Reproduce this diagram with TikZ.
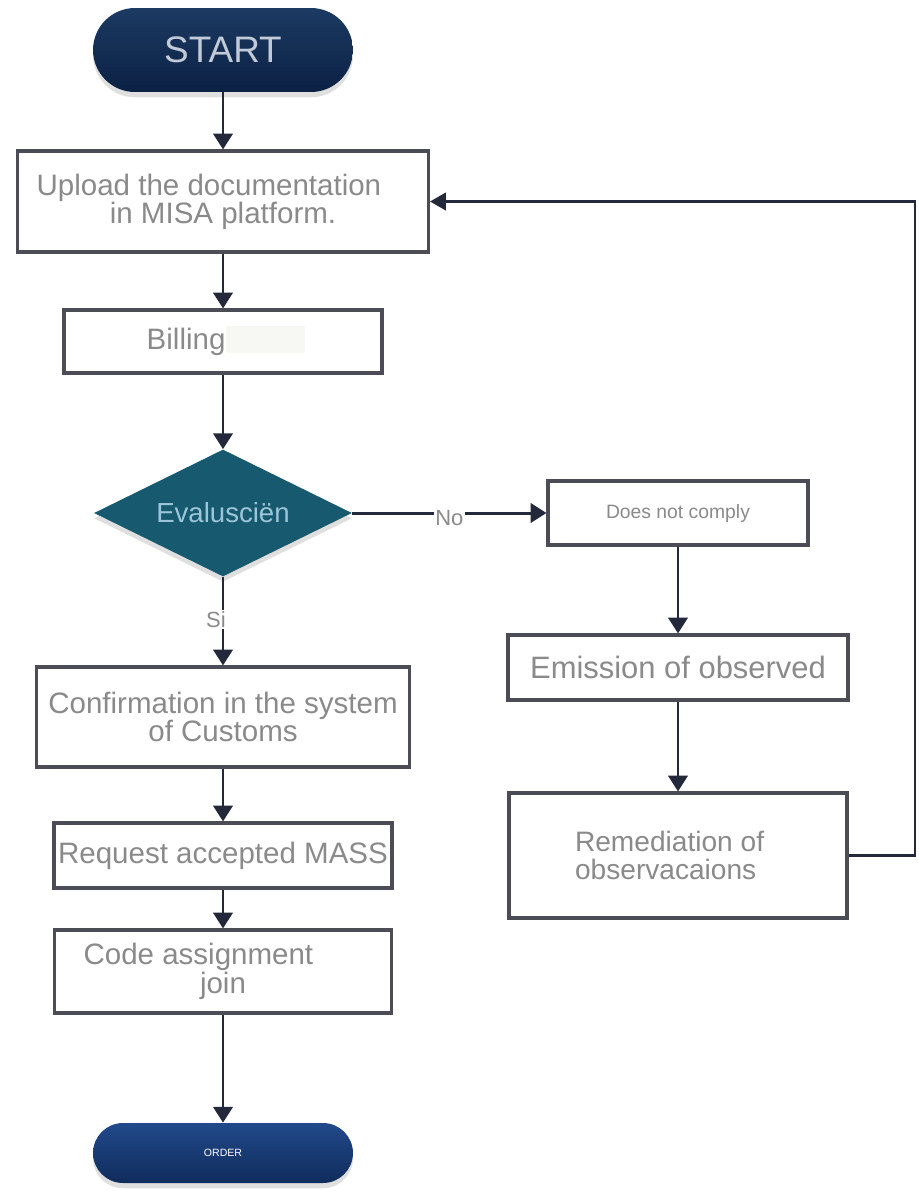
\documentclass[tikz,border=0pt]{standalone}
\usepackage{fontspec}
\setmainfont{Liberation Sans}
\usetikzlibrary{arrows.meta,shapes.geometric,shadows}
\definecolor{navytop}{HTML}{1C3A62}
\definecolor{navybot}{HTML}{0B2144}
\definecolor{endtop}{HTML}{21498A}
\definecolor{endbot}{HTML}{102C5C}
\definecolor{teal}{HTML}{175A70}
\definecolor{boxline}{HTML}{4C4C56}
\definecolor{arrowc}{HTML}{23283A}
\definecolor{txtgray}{HTML}{8A8A8A}
\definecolor{evaltxt}{HTML}{9CC6D8}
\definecolor{starttxt}{HTML}{C2CAD8}
\definecolor{hilite}{HTML}{F7F7F4}
\begin{document}
\begin{tikzpicture}[x=0.02cm,y=-0.02cm,
  stadium/.style={rectangle, rounded corners=#1, inner sep=0pt,
    drop shadow={opacity=0.25, shadow xshift=0pt, shadow yshift=-3pt}},
  procbox/.style={draw=boxline, line width=1.8pt, fill=white, inner sep=0pt,
    text=txtgray, align=center, font=\fontsize{16.8}{16}\selectfont},
  flow/.style={draw=arrowc, line width=1.7pt, -{Triangle[width=11pt,length=9pt]}},
  looparrow/.style={draw=arrowc, line width=1.2pt, -{Triangle[width=10pt,length=9pt]}},
  branch/.style={fill=white, inner sep=1pt, text=txtgray, font=\fontsize{12.5}{13}\selectfont}
]
\useasboundingbox (0,0) rectangle (919,1191);

% terminals and decision
\node[stadium=0.84cm, top color=navytop, bottom color=navybot,
      minimum width=5.2cm, minimum height=1.68cm,
      text=starttxt, font=\fontsize{21}{21}\selectfont] (start) at (223,50) {START};

\node[procbox, minimum width=8.22cm, minimum height=2.02cm] (upload) at (223,201.5)
  {Upload the documentation\hspace*{16pt}\\ in MISA platform.};

\node[procbox, minimum width=6.36cm, minimum height=1.26cm] (bill) at (223,341.5)
  {Billing\hspace*{42pt}};
\fill[hilite] (226,326) rectangle (305,353);

\node[diamond, aspect=2.03, fill=teal, inner sep=0pt,
      minimum width=5.16cm, minimum height=2.54cm,
      drop shadow={opacity=0.25, shadow xshift=0pt, shadow yshift=-3pt},
      text=evaltxt, font=\fontsize{15.7}{16}\selectfont] (eval) at (223,513) {Evalusciën};

\node[procbox, minimum width=5.2cm, minimum height=1.28cm,
      font=\fontsize{11}{12}\selectfont] (dnc) at (678,513) {Does not comply};
\node[procbox, minimum width=6.8cm, minimum height=1.3cm,
      font=\fontsize{17.6}{18}\selectfont] (emis) at (678,667.5) {Emission of observed};
\node[procbox, minimum width=6.76cm, minimum height=2.5cm, align=left,
      font=\fontsize{16}{15.9}\selectfont] (rem) at (678,855.5)
  {Remediation of\\observacaions\hspace*{14pt}};

\node[procbox, minimum width=7.46cm, minimum height=2.0cm] (conf) at (223,717)
  {Confirmation in the system\\of Customs};
\node[procbox, minimum width=6.76cm, minimum height=1.3cm] (req) at (223,855.5)
  {Request accepted MASS};
\node[procbox, minimum width=6.74cm, minimum height=1.66cm,
      font=\fontsize{16.8}{14.8}\selectfont] (code) at (223,971.5)
  {Code assignment\hspace*{28pt}\\join};

\node[stadium=0.6cm, top color=endtop, bottom color=endbot,
      minimum width=5.2cm, minimum height=1.2cm,
      text=white, font=\fontsize{6}{6}\selectfont] (finish) at (223,1153) {ORDER};

% connectors
\draw[flow] (start) -- (upload);
\draw[flow] (upload) -- (bill);
\draw[flow] (bill) -- (eval);
\draw[flow] (eval) -- node[branch, pos=0.5, yshift=-3pt] {No} (dnc);
\draw[flow] (eval) -- node[branch, pos=0.48, xshift=-4pt] {Si} (conf);
\draw[flow] (dnc) -- (emis);
\draw[flow] (emis) -- (rem);
\draw[flow] (conf) -- (req);
\draw[flow] (req) -- (code);
\draw[flow] (code) -- (finish);

\coordinate (loopc) at (915,201.5);
\draw[looparrow] (rem.east) -| (loopc) -- (upload.east);
\end{tikzpicture}
\end{document}
